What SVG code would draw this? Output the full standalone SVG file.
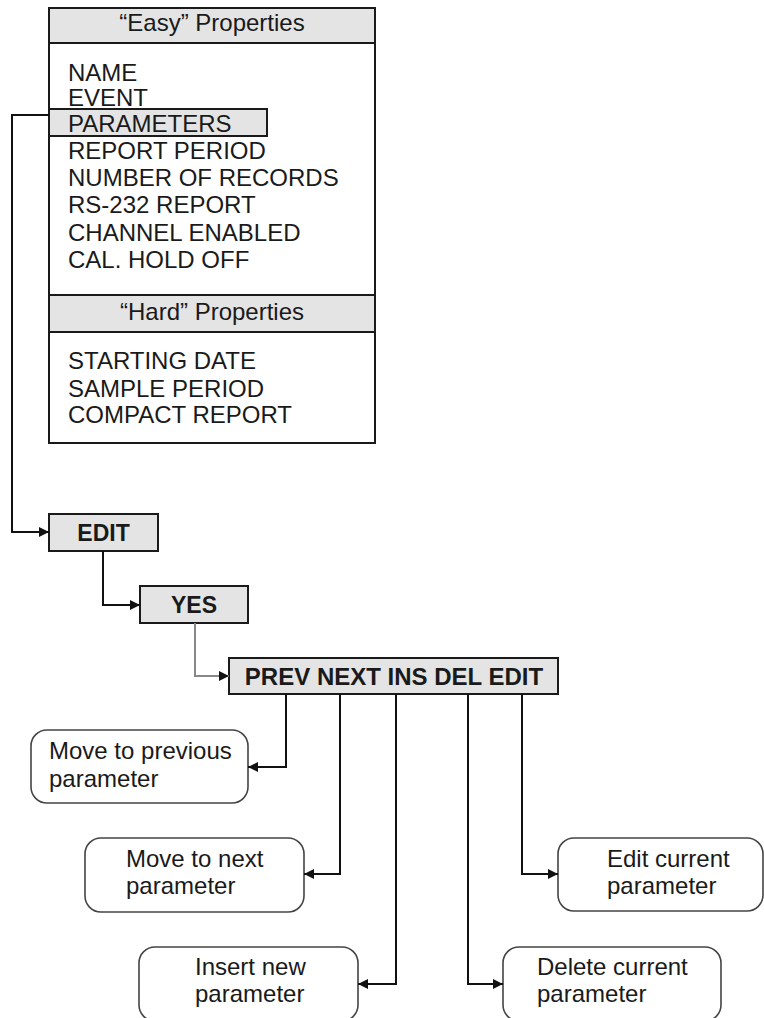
<svg xmlns="http://www.w3.org/2000/svg" width="764" height="1018" viewBox="0 0 764 1018">
<style>
.t{font-family:"Liberation Sans",Arial,sans-serif;font-size:24px;fill:#1a1a1a}
.b{font-family:"Liberation Sans",Arial,sans-serif;font-size:23px;font-weight:bold;fill:#1a1a1a}
.bm{font-family:"Liberation Sans",Arial,sans-serif;font-size:24px;font-weight:bold;fill:#1a1a1a}
.r{font-family:"Liberation Sans",Arial,sans-serif;font-size:24px;fill:#1a1a1a}
.box{fill:#ffffff;stroke:#1a1a1a;stroke-width:2}
.hdr{fill:#e4e4e4;stroke:#1a1a1a;stroke-width:2}
.rnd{fill:#ffffff;stroke:#444;stroke-width:1.6}
.c{fill:none;stroke:#111;stroke-width:2}
.cg{fill:none;stroke:#888;stroke-width:2}
</style>
<defs>
<marker id="ah" viewBox="0 0 10 10" refX="10" refY="5" markerWidth="10" markerHeight="10" markerUnits="userSpaceOnUse" orient="auto">
<path d="M0,0 L10,5 L0,10 z" fill="#111"/>
</marker>
</defs>
<g id="properties">
<rect class="box" x="49" y="8" width="326" height="435"/>
<rect class="hdr" x="49" y="8" width="326" height="35"/>
<text class="t" x="212" y="31" text-anchor="middle">“Easy” Properties</text>
<rect class="hdr" x="49" y="109" width="218" height="27"/>
<text class="t" x="68" y="81">NAME</text>
<text class="t" x="68" y="106">EVENT</text>
<text class="t" x="68" y="132">PARAMETERS</text>
<text class="t" x="68" y="159">REPORT PERIOD</text>
<text class="t" x="68" y="186">NUMBER OF RECORDS</text>
<text class="t" x="68" y="213">RS-232 REPORT</text>
<text class="t" x="68" y="241">CHANNEL ENABLED</text>
<text class="t" x="68" y="268">CAL. HOLD OFF</text>
<rect class="hdr" x="49" y="295" width="326" height="37"/>
<text class="t" x="212" y="320" text-anchor="middle">“Hard” Properties</text>
<text class="t" x="68" y="369">STARTING DATE</text>
<text class="t" x="68" y="397">SAMPLE PERIOD</text>
<text class="t" x="68" y="423">COMPACT REPORT</text>
</g>
<g id="edit">
<rect class="hdr" x="49" y="514" width="109" height="37"/>
<text class="b" x="103.5" y="541" text-anchor="middle">EDIT</text>
</g>
<g id="yes">
<rect class="hdr" x="140" y="586" width="108" height="37"/>
<text class="b" x="194" y="613" text-anchor="middle">YES</text>
</g>
<g id="menu">
<rect class="hdr" x="229" y="658" width="329" height="36"/>
<text class="bm" x="394" y="685" text-anchor="middle">PREV NEXT INS DEL EDIT</text>
</g>
<g id="prev">
<rect class="rnd" x="31" y="730" width="217" height="73" rx="16"/>
<text class="r" x="49" y="759">Move to previous</text>
<text class="r" x="49" y="787">parameter</text>
</g>
<g id="next">
<rect class="rnd" x="85" y="838" width="219" height="74" rx="16"/>
<text class="r" x="126" y="867">Move to next</text>
<text class="r" x="126" y="894">parameter</text>
</g>
<g id="insert">
<rect class="rnd" x="139" y="947" width="219" height="74" rx="16"/>
<text class="r" x="195" y="975">Insert new</text>
<text class="r" x="195" y="1002">parameter</text>
</g>
<g id="delete">
<rect class="rnd" x="503" y="947" width="218" height="74" rx="16"/>
<text class="r" x="537" y="975">Delete current</text>
<text class="r" x="537" y="1002">parameter</text>
</g>
<g id="editcur">
<rect class="rnd" x="558" y="838" width="205" height="73" rx="16"/>
<text class="r" x="607" y="867">Edit current</text>
<text class="r" x="607" y="894">parameter</text>
</g>
<g id="connectors">
<path class="c" d="M49,115 H12 V532 H49" marker-end="url(#ah)"/>
<path class="c" d="M103,551 V605 H140" marker-end="url(#ah)"/>
<path class="cg" d="M195,623 V676 H229" marker-end="url(#ah)"/>
<path class="c" d="M286,694 V767 H248" marker-end="url(#ah)"/>
<path class="c" d="M340,694 V874 H304" marker-end="url(#ah)"/>
<path class="c" d="M396,694 V984 H358" marker-end="url(#ah)"/>
<path class="c" d="M468,694 V984 H503" marker-end="url(#ah)"/>
<path class="c" d="M522,694 V874 H558" marker-end="url(#ah)"/>
</g>
</svg>
